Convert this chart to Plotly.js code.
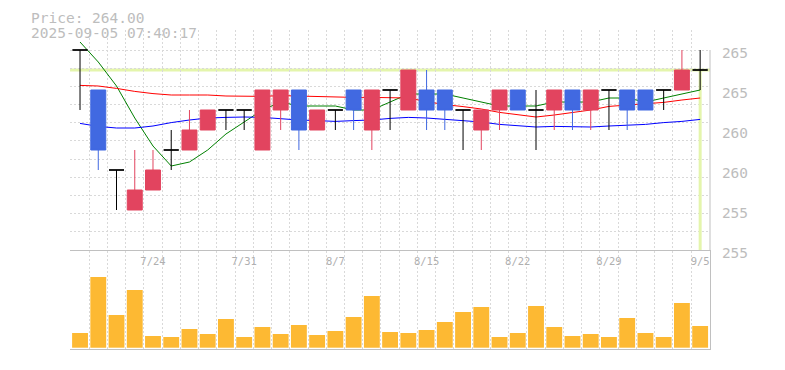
<!DOCTYPE html>
<html><head><meta charset="utf-8">
<script src="https://cdn.plot.ly/plotly-3.0.1.min.js"></script>
<style>html,body{margin:0;padding:0;background:#fff;} #chart{width:785px;height:370px;}</style>
</head><body><div id="chart"></div>
<script>
// ---- data ----
const dates = ['7/17','7/18','7/22','7/23','7/24','7/25','7/28','7/29','7/30','7/31','8/1','8/4','8/5','8/6','8/7','8/8','8/12','8/13','8/14','8/15','8/18','8/19','8/20','8/21','8/22','8/25','8/26','8/27','8/28','8/29','9/1','9/2','9/3','9/4','9/5'];
const openP  = [265,263,259,257,258,260,260,261,262,262,260,262,263,261,262,263,261,263,262,263,263,262,261,262,263,262,262,263,262,263,263,263,263,263,264];
const highP  = [265,263,259,260,260,261,262,262,262,262,263,263,263,262,262,263,263,263,264,264,263,262,262,263,263,263,263,263,263,263,263,263,263,265,265];
const lowP   = [262,259,257,257,258,259,260,261,261,261,260,261,260,261,261,261,260,261,262,261,261,260,260,261,262,260,261,261,261,261,261,262,262,263,263];
const closeP = [265,260,259,258,259,260,261,262,262,262,263,263,261,262,262,262,263,263,264,262,262,262,262,263,262,262,263,262,263,263,262,262,263,264,264];
const maShort = [265.4,264.4,263.2,261.6,260.2,259.2,259.4,260.0,260.8,261.4,262.0,262.4,262.2,262.2,262.2,262.0,262.0,262.4,262.8,262.8,262.8,262.6,262.4,262.2,262.2,262.2,262.4,262.4,262.4,262.6,262.6,262.4,262.6,262.8,263.0];
const maMid = [263.23,263.2,263.08,262.93,262.82,262.75,262.75,262.75,262.7,262.68,262.68,262.72,262.7,262.67,262.63,262.63,262.63,262.63,262.6,262.42,262.27,262.17,262.05,261.88,261.77,261.65,261.75,261.87,262.0,262.18,262.25,262.3,262.38,262.5,262.6];
const maLong = [261.33,261.18,261.1,261.1,261.2,261.37,261.5,261.6,261.63,261.65,261.63,261.55,261.5,261.47,261.43,261.47,261.5,261.58,261.63,261.6,261.53,261.47,261.4,261.28,261.2,261.15,261.18,261.18,261.15,261.2,261.23,261.28,261.37,261.43,261.53];
const volume = [147,707,327,577,117,107,187,137,287,107,207,137,227,127,167,307,517,157,147,177,257,357,407,107,147,417,207,117,137,107,297,147,107,447,217];
const xLabelIdx = [4,9,14,19,24,29,34];
const yTickVals = [255,257,259,261,263,265];
const yTickText = ['255','255','260','260','265','265'];
const titleLine1 = 'Price: 264.00';
const titleLine2 = '2025-09-05 07:40:17';

// ---- build ----
const idx = dates.map((d,i)=>i);
const isDoji = idx.map(i => openP[i] === closeP[i]);
const pick = (arr, want) => arr.map((v,i)=> isDoji[i] === want ? v : NaN);

const RED = '#e2445f', BLUE = '#4169e1';
const GRID = '#d9d9d9', BORDER = '#c0c0c0', TXT = '#bdbdbd';
const MONO = 'DejaVu Sans Mono, monospace';
const yMin = 255, yMax = 265, yTop = 266;
const xr = [-0.55, 34.54];
const lastI = idx[idx.length-1], lastC = closeP[closeP.length-1];

const gridVals = [];
for (let k = 0; k <= 11; k++) gridVals.push(yMin + k*(yMax-yMin)/11);

const traces = [
  {type:'scatter', mode:'lines', x:idx, y:maShort, xaxis:'x', yaxis:'y', line:{color:'#008000', width:1}, hoverinfo:'skip'},
  {type:'scatter', mode:'lines', x:idx, y:maMid, xaxis:'x', yaxis:'y', line:{color:'#ff0000', width:1}, hoverinfo:'skip'},
  {type:'scatter', mode:'lines', x:idx, y:maLong, xaxis:'x', yaxis:'y', line:{color:'#0000ff', width:1}, hoverinfo:'skip'},
  {type:'candlestick', x:idx, open:pick(openP,false), high:pick(highP,false), low:pick(lowP,false), close:pick(closeP,false),
   xaxis:'x', yaxis:'y3', line:{width:1}, whiskerwidth:0,
   increasing:{line:{color:RED,width:1}, fillcolor:RED},
   decreasing:{line:{color:BLUE,width:1}, fillcolor:BLUE}, hoverinfo:'skip'},
  {type:'candlestick', x:idx, open:pick(openP,true), high:pick(highP,true), low:pick(lowP,true), close:pick(closeP,true),
   xaxis:'x', yaxis:'y3', line:{width:1}, whiskerwidth:0,
   increasing:{line:{color:'#000',width:1}, fillcolor:'#000'},
   decreasing:{line:{color:'#000',width:1}, fillcolor:'#000'}, hoverinfo:'skip'},
  {type:'bar', x:idx, y:volume, xaxis:'x2', yaxis:'y2', width:0.87, marker:{color:'#fdb933', line:{width:0}}, hoverinfo:'skip'},
  {type:'scatter', mode:'lines', x:[], y:[], xaxis:'x3', yaxis:'y2', hoverinfo:'skip', showlegend:false}
];

const W = 785, H = 370, mt = 30, mb = 21, ml = 70, mr = 75;
const ph = H - mt - mb;
const py = y => (H - mb - y) / ph;   // pixel -> paper
const px = x => (x - ml) / (W - ml - mr);

const layout = {
  width:W, height:H, showlegend:false, hovermode:false,
  margin:{l:ml, r:mr, t:mt, b:mb, pad:0},
  paper_bgcolor:'#fff', plot_bgcolor:'rgba(0,0,0,0)',
  boxgap:0.18, boxgroupgap:0,
  xaxis:{domain:[0,1], anchor:'y', range:xr, tick0:-0.5, dtick:1, showgrid:true, gridcolor:GRID, griddash:'2px,2px',
         showticklabels:false, ticks:'', zeroline:false, showline:true, linecolor:BORDER, linewidth:1,
         rangeslider:{visible:false}, fixedrange:true},
  yaxis:{domain:[py(250),1], anchor:'free', position:1, side:'right', range:[yMin,yTop], tickvals:yTickVals, ticktext:yTickText,
         showgrid:false, zeroline:false, ticks:'outside', ticklen:8, tickcolor:'rgba(0,0,0,0)', ticklabelshift:3,
         tickfont:{family:MONO, size:14.5, color:TXT}, showline:false},
  yaxis3:{overlaying:'y', anchor:'x', range:[yMin,yTop], tickvals:gridVals, showgrid:true, gridcolor:GRID, griddash:'2px,2px',
          showticklabels:false, ticks:'', zeroline:false, showline:false},
  xaxis2:{domain:[0,1], anchor:'y2', range:xr, tick0:-0.5, dtick:1, showgrid:true, gridcolor:GRID, griddash:'2px,2px',
          showticklabels:false, ticks:'', zeroline:false, showline:true, mirror:true, linecolor:BORDER, linewidth:1},
  xaxis3:{overlaying:'x2', anchor:'y2', side:'top', range:xr, tickvals:xLabelIdx, ticktext:xLabelIdx.map(i=>dates[i]),
          ticklabelposition:'inside', ticks:'', showgrid:false, zeroline:false, showline:false, ticklabelstandoff:4,
          tickfont:{family:MONO, size:10.5, color:'#b0b0b0'}},
  yaxis2:{domain:[0,py(251)], anchor:'x2', range:[-13,967], side:'right', showgrid:false, zeroline:false,
          showticklabels:false, ticks:'', showline:true, linecolor:BORDER, linewidth:1},
  shapes:[
    {type:'rect', xref:'paper', yref:'y', x0:-0.01, x1:1.01, y0:yMax, y1:yTop, fillcolor:'#fff', line:{width:0}, layer:'between'},
    {type:'line', xref:'paper', yref:'y', x0:0, x1:1, y0:lastC, y1:lastC, line:{color:'#e4f5ac', width:3}, layer:'between'},
    {type:'line', xref:'x', yref:'y', x0:lastI, x1:lastI, y0:lastC, y1:yMin, line:{color:'#e4f5ac', width:3}, layer:'between'},
    {type:'line', xref:'paper', yref:'y', x0:1, x1:1, y0:yMin, y1:yMax, line:{color:BORDER, width:1}, layer:'above'}
  ],
  annotations:[
    {text:titleLine1, xref:'paper', yref:'paper', x:px(29), y:py(18), xanchor:'left', yanchor:'middle', showarrow:false,
     font:{family:MONO, size:14.5, color:TXT}},
    {text:titleLine2, xref:'paper', yref:'paper', x:px(29), y:py(33), xanchor:'left', yanchor:'middle', showarrow:false,
     font:{family:MONO, size:14.5, color:TXT}}
  ]
};

Plotly.newPlot('chart', traces, layout, {staticPlot:true, displayModeBar:false});
</script>
</body></html>
